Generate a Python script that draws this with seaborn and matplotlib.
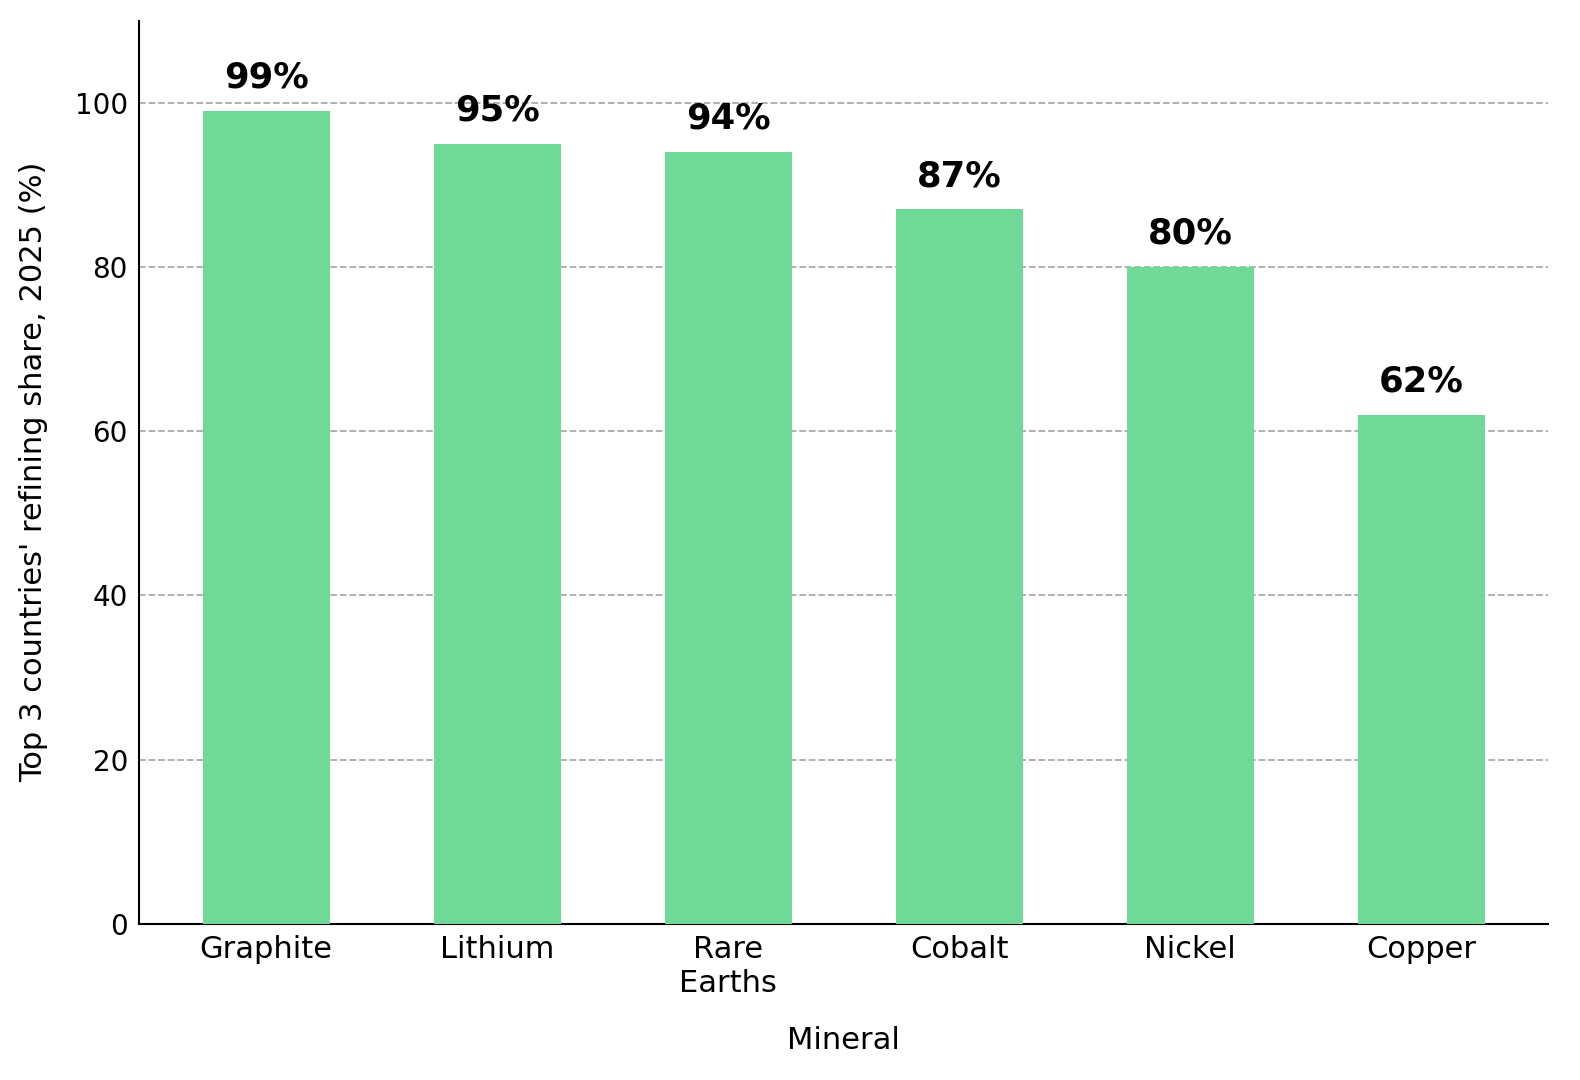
import pandas as pd
import matplotlib
matplotlib.use("Agg")
import matplotlib.pyplot as plt
import seaborn as sns

minerals = ["Graphite", "Lithium", "Rare\nEarths", "Cobalt", "Nickel", "Copper"]
shares = [99, 95, 94, 87, 80, 62]

df = pd.DataFrame({"Mineral": minerals, "Share": shares})

sns.set_style("white")
plt.rcParams["font.family"] = ["DejaVu Sans"]
plt.rcParams["text.color"] = "black"
plt.rcParams["axes.labelcolor"] = "black"
plt.rcParams["xtick.color"] = "black"
plt.rcParams["ytick.color"] = "black"

fig, ax = plt.subplots(figsize=(15.8, 10.8), dpi=100)
fig.subplots_adjust(left=0.088, right=0.98, top=0.981, bottom=0.1444)

sns.barplot(data=df, x="Mineral", y="Share", color="#71d997", saturation=1,
            width=0.55, linewidth=0, ax=ax, zorder=3)

for i, v in enumerate(shares):
    ax.text(i, v + 2, f"{v}%", ha="center", va="bottom",
            fontsize=25.5, fontweight="bold")

ax.set_ylim(0, 110)
ax.set_xlim(-0.55, 5.55)
ax.set_yticks([0, 20, 40, 60, 80, 100])
ax.yaxis.grid(True, linestyle="--", color="#aaaaaa", linewidth=1.3, zorder=0)
ax.set_axisbelow(True)
ax.tick_params(axis="both", length=0, labelsize=20, pad=8)
ax.tick_params(axis="x", labelsize=22)

ax.set_xlabel("Mineral", fontsize=22, labelpad=20)
ax.set_ylabel("Top 3 countries' refining share, 2025 (%)", fontsize=22, labelpad=19)

for s in ["top", "right"]:
    ax.spines[s].set_visible(False)
for s in ["left", "bottom"]:
    ax.spines[s].set_color("black")
    ax.spines[s].set_linewidth(1.5)

plt.savefig("out.png", dpi=100)
